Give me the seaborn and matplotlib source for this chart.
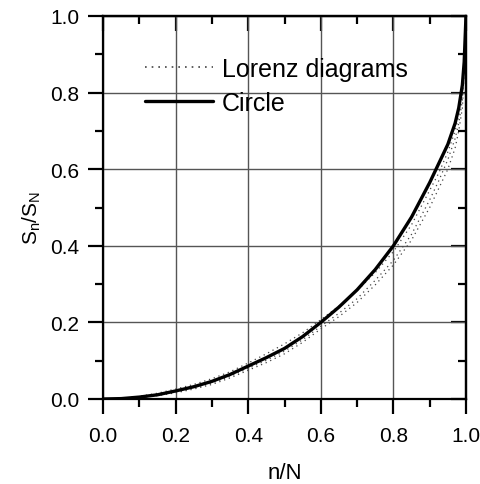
import numpy as np
import pandas as pd
import matplotlib
matplotlib.use("Agg")
import matplotlib.pyplot as plt
import seaborn as sns
from matplotlib.ticker import MultipleLocator, FormatStrFormatter, NullFormatter
from matplotlib.lines import Line2D

sns.set_style("white")
plt.rcParams['font.family'] = ['Liberation Sans', 'DejaVu Sans']
plt.rcParams['mathtext.fontset'] = 'custom'
plt.rcParams['mathtext.rm'] = 'Liberation Sans'
plt.rcParams['text.color'] = 'black'
plt.rcParams['axes.labelcolor'] = 'black'

# Circle curve
circle_x = [0.0, 0.05, 0.1, 0.15, 0.2, 0.25, 0.3, 0.35, 0.4, 0.45, 0.5, 0.55, 0.6, 0.65,
            0.7, 0.75, 0.8, 0.85, 0.9, 0.925, 0.95, 0.97, 0.98, 0.99, 0.995, 1.0]
circle_y = [0.0, 0.001, 0.005, 0.011, 0.021, 0.032, 0.046, 0.064, 0.086, 0.108, 0.132, 0.163,
            0.2, 0.24, 0.285, 0.338, 0.4, 0.475, 0.565, 0.615, 0.665, 0.72, 0.76, 0.82, 0.88, 1.0]

# Lorenz diagrams (several samples)
lor_x = [0.05, 0.1, 0.15, 0.2, 0.25, 0.3, 0.35, 0.4, 0.45, 0.5, 0.55, 0.6, 0.65, 0.7, 0.75,
         0.8, 0.85, 0.9, 0.925, 0.95, 0.97, 0.98, 0.99, 1.0]
lor_a = [0.001, 0.007, 0.015, 0.026, 0.038, 0.053, 0.071, 0.094, 0.118, 0.144, 0.173, 0.207,
         0.243, 0.283, 0.33, 0.385, 0.455, 0.545, 0.59, 0.645, 0.70, 0.74, 0.80, 1.0]
lor_b = [0.001, 0.004, 0.01, 0.018, 0.029, 0.042, 0.059, 0.08, 0.101, 0.125, 0.155, 0.19,
         0.224, 0.262, 0.31, 0.362, 0.43, 0.52, 0.57, 0.625, 0.68, 0.72, 0.78, 0.98]
lor_c = [0.0, 0.003, 0.009, 0.016, 0.026, 0.038, 0.055, 0.075, 0.095, 0.118, 0.148, 0.183,
         0.215, 0.252, 0.298, 0.35, 0.415, 0.5, 0.55, 0.6, 0.655, 0.70, 0.76, 0.95]

fig = plt.figure(figsize=(4.81, 4.85), dpi=100)
ax = fig.add_axes([103/481, 1-400/485, 363/481, 383/485])

lor_df = pd.DataFrame({
    'x': lor_x * 3,
    'y': lor_a + lor_b + lor_c,
    'run': ['a'] * len(lor_x) + ['b'] * len(lor_x) + ['c'] * len(lor_x),
})
sns.lineplot(data=lor_df, x='x', y='y', units='run', estimator=None, ax=ax,
             color='#444444', linestyle=(0, (1, 3)), linewidth=0.9, legend=False)
circ_df = pd.DataFrame({'x': circle_x, 'y': circle_y})
sns.lineplot(data=circ_df, x='x', y='y', ax=ax, color='black', linewidth=2.4, legend=False)

ax.set_xlim(0, 1)
ax.set_ylim(0, 1)
for axis in (ax.xaxis, ax.yaxis):
    axis.set_major_locator(MultipleLocator(0.2))
    axis.set_minor_locator(MultipleLocator(0.1))
    axis.set_major_formatter(FormatStrFormatter('%.1f'))
ax.grid(True, which='major', color='#555555', linewidth=1.0)
for s in ax.spines.values():
    s.set_color('black')
    s.set_linewidth(1.6)
ax.tick_params(axis='both', which='both', bottom=True, left=True, top=False, right=False)
ax.tick_params(axis='both', which='major', direction='out', length=10.5, width=1.6,
               labelsize=15, colors='black', labelcolor='black')
ax.tick_params(axis='x', which='major', pad=9)
ax.tick_params(axis='y', which='major', pad=6.5)
ax.tick_params(axis='both', which='minor', direction='out', length=5.5, width=1.6,
               colors='black')

# inward ticks on top and right
secx = ax.secondary_xaxis('top')
secy = ax.secondary_yaxis('right')
for sec, axis in ((secx, secx.xaxis), (secy, secy.yaxis)):
    axis.set_major_locator(MultipleLocator(0.2))
    axis.set_minor_locator(MultipleLocator(0.1))
    axis.set_major_formatter(NullFormatter())
    sec.tick_params(which='major', direction='in', length=10.5, width=1.6, colors='black')
    sec.tick_params(which='minor', direction='in', length=5.5, width=1.6, colors='black')
    for s in sec.spines.values():
        s.set_linewidth(1.6)
        s.set_color('black')

ax.set_xlabel('n/N', fontsize=16, labelpad=12)
ax.set_ylabel(r'$\mathregular{S_n/S_N}$', fontsize=15)
ax.yaxis.set_label_coords(-0.165, 0.475)

# legend
handles = [Line2D([], [], color='#444444', linestyle=(0, (1, 3)), linewidth=1.2),
           Line2D([], [], color='black', linewidth=2.4)]
labels = ['Lorenz diagrams', 'Circle']
ax.legend(handles, labels, loc='upper left', bbox_to_anchor=(0.089, 0.92), frameon=False,
          fontsize=18, handlelength=2.7, handletextpad=0.35, labelspacing=0.42,
          borderaxespad=0)
fig.savefig('out.png', dpi=100)
